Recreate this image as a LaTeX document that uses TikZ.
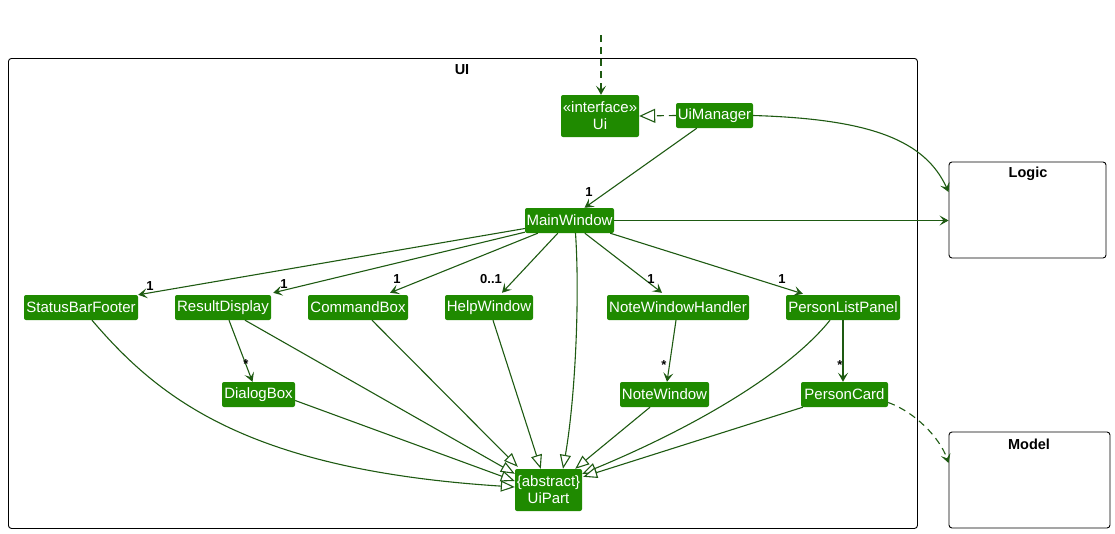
\documentclass[tikz,border=0pt]{standalone}
\usepackage{fontspec}
\setmainfont{Liberation Sans}
\usetikzlibrary{arrows.meta,calc}
\definecolor{nodegreen}{HTML}{1F8A00}
\definecolor{edgegreen}{HTML}{1E5A12}
\begin{document}
\begin{tikzpicture}[x=1pt,y=-1pt,
  cls/.style={fill=nodegreen, text=white, rounded corners=2pt, font=\fontsize{15}{17}\selectfont, inner sep=1pt, minimum height=25, align=center},
  frm/.style={draw=black, line width=0.9pt, rounded corners=3pt},
  ttl/.style={font=\bfseries\fontsize{14.5}{16}\selectfont, inner sep=0pt},
  mult/.style={font=\bfseries\fontsize{13}{14}\selectfont, inner sep=0pt, text=black},
  con/.style={draw=edgegreen, line width=1.1pt},
  assoc/.style={con, -{Stealth[length=9pt,width=10pt,inset=4pt]}},
  dep/.style={con, dash pattern=on 7pt off 5pt, -{Stealth[length=9pt,width=10pt,inset=4pt]}},
  real/.style={con, dash pattern=on 7pt off 5pt, -{Triangle[length=16pt,width=14pt,fill=white]}},
  inh/.style={con, -{Triangle[length=14pt,width=11pt,fill=white]}}
]
\useasboundingbox (0,0) rectangle (1115,533);

% frames
\node[frm, minimum width=909, minimum height=470, anchor=north west] (uiframe) at (8,58) {};
\node[ttl] (uititle) at (462,70) {UI};
\node[frm, minimum width=157, minimum height=96] (logic) at (1027.5,210) {};
\node[ttl] (logictitle) at (1028,174) {Logic};
\node[frm, minimum width=161, minimum height=96] (model) at (1029.5,480) {};
\node[ttl] (modeltitle) at (1029,444) {Model};

% classes
\node[cls, minimum width=78, minimum height=42] (ui) at (600,116) {«interface»\\Ui};
\node[cls, minimum width=77] (uim) at (714.5,115.5) {UiManager};
\node[cls, minimum width=89] (mw) at (569.5,220.5) {MainWindow};
\node[cls, minimum width=114] (sbf) at (81,307.5) {StatusBarFooter};
\node[cls, minimum width=96] (rd) at (223,307.5) {ResultDisplay};
\node[cls, minimum width=100] (cb) at (358,307.5) {CommandBox};
\node[cls, minimum width=88] (hw) at (489,307.5) {HelpWindow};
\node[cls, minimum width=142] (nwh) at (678,307.5) {NoteWindowHandler};
\node[cls, minimum width=114] (plp) at (843,307.5) {PersonListPanel};
\node[cls, minimum width=73] (db) at (258.5,394.5) {DialogBox};
\node[cls, minimum width=89] (nw) at (664.5,394.5) {NoteWindow};
\node[cls, minimum width=87] (pc) at (844.5,394.5) {PersonCard};
\node[cls, minimum width=67, minimum height=42] (uip) at (548.5,490) {\{abstract\}\\UiPart};

% external dependency into Ui
\coordinate (src) at (601,35);
\draw[dep] (src) -- (src |- ui.north);

% realization
\draw[real] (uim.west) -- (ui.east);

% UiManager
\draw[assoc] ($(uim.south west)+(21,0)$) -- ($(mw.north)+(15,0)$);
\node[mult] (m0) at (589,192) {1};
\draw[assoc] (uim.east) .. controls (870,119) and (925,140) .. ($(logic.west)+(0,-18)$);

% MainWindow
\draw[assoc] (mw.east) -- (mw.east -| logic.west);
\draw[assoc] ($(mw.west)+(0,8)$) -- ($(sbf.north east)+(0,0)$);
\node[mult] (m1) at (150,286) {1};
\draw[assoc] ($(mw.south west)+(0,-1)$) -- ($(rd.north east)+(2,-2)$);
\node[mult] (m2) at (284,284) {1};
\draw[assoc] ($(mw.south west)+(13,0)$) -- ($(cb.north)+(32,-2)$);
\node[mult] (m3) at (397,279) {1};
\draw[assoc] ($(mw.south west)+(33,0)$) -- ($(hw.north)+(13,-2)$);
\node[mult] (m4) at (491,279) {0..1};
\draw[assoc] ($(mw.south west)+(60,0)$) -- ($(nwh.north)+(-16,-2)$);
\node[mult] (m5) at (651,279) {1};
\draw[assoc] ($(mw.south east)+(-4,0)$) -- ($(plp.north west)+(17,-1)$);
\node[mult] (m6) at (782,279) {1};

% associations to contained parts
\draw[assoc] ($(rd.south)+(6,0)$) -- ($(db.north)+(-6,0)$);
\node[mult] (m7) at (246,364) {*};
\draw[assoc] ($(nwh.south)+(-2,0)$) -- ($(nw.north)+(2.5,0)$);
\node[mult] (m8) at (664,365) {*};
\draw[assoc] (plp.south) -- (plp.south |- pc.north);
\node[mult] (m9) at (840,365) {*};

% PersonCard to Model
\draw[dep] ($(pc.east)+(0,8)$) .. controls (915,412) and (940,438) .. ($(model.west)+(0,-17)$);

% inheritance into UiPart
\draw[inh] ($(sbf.south)+(11,0)$) .. controls (160,400) and (250,470) .. ($(uip.west)+(0,-3)$);
\draw[inh] ($(rd.south)+(22,0)$) -- ($(uip.north west)+(0,5)$);
\draw[inh] ($(db.east)+(0,6)$) -- ($(uip.west)+(0,-9)$);
\draw[inh] ($(cb.south)+(14,0)$) -- ($(uip.north west)+(3,-2)$);
\draw[inh] ($(hw.south)+(4,0)$) -- ($(uip.north west)+(26,0)$);
\draw[inh] ($(mw.south)+(6,0)$) .. controls (580,300) and (575,400) .. ($(uip.north)+(14.5,0)$);
\draw[inh] ($(nw.south)+(-14.5,0)$) -- ($(uip.north east)+(-7,0)$);
\draw[inh] ($(plp.south)+(-13,0)$) .. controls (790,370) and (700,425) .. ($(uip.north east)+(0,5)$);
\draw[inh] ($(pc.south west)+(2,0)$) -- ($(uip.north east)+(1,8)$);
\end{tikzpicture}
\end{document}
